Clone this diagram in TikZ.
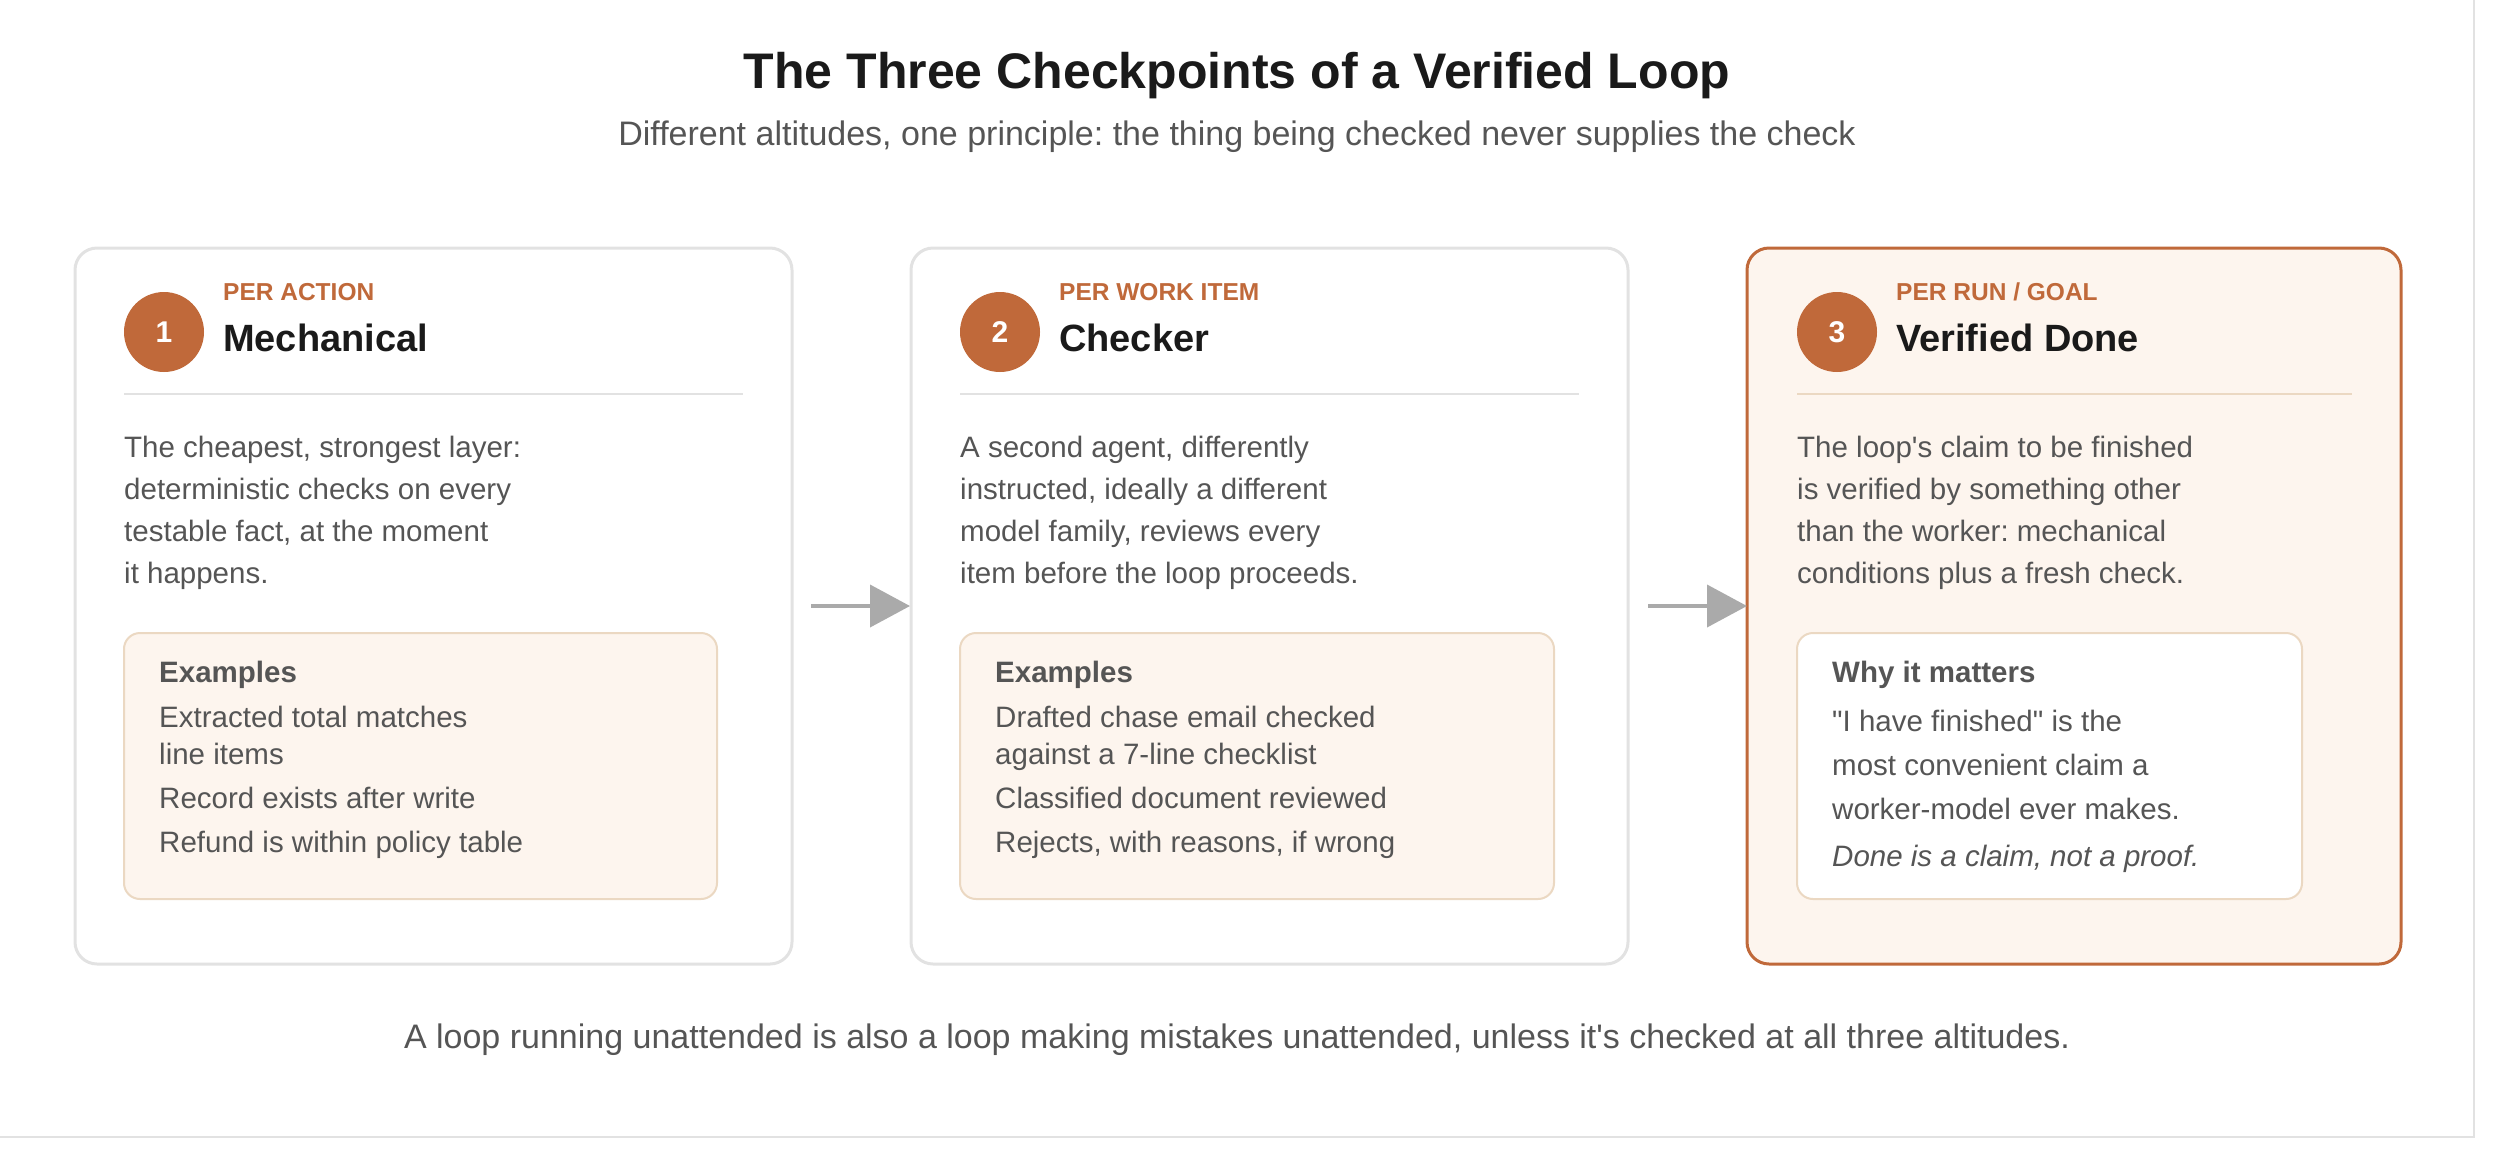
\documentclass[tikz,border=0pt]{standalone}
\usepackage{fontspec}
\setmainfont{Liberation Sans}[Ligatures=TeXOff]
\usepackage{xcolor}
\usetikzlibrary{positioning}
\frenchspacing
\definecolor{rust}{HTML}{C0693A}
\definecolor{peach}{HTML}{FDF5EE}
\definecolor{peachline}{HTML}{EBD8C2}
\definecolor{cardline}{HTML}{E2E2E2}
\definecolor{ink}{HTML}{1A1A1A}
\definecolor{body}{HTML}{555555}
\definecolor{arrowgray}{HTML}{AAAAAA}
\tikzset{
  card/.style={draw=cardline, line width=3pt, rounded corners=22pt, fill=white},
  inbox/.style={draw=peachline, line width=2pt, rounded corners=16pt, fill=peach},
  badge/.style={circle, fill=rust, minimum size=80pt, inner sep=0pt, text=white, font=\fontsize{30}{32}\selectfont\bfseries},
  tag/.style={anchor=west, inner sep=0pt, text=rust, font=\fontsize{24.5}{27}\selectfont\bfseries},
  head/.style={anchor=west, inner sep=0pt, text=ink, font=\fontsize{38}{42}\selectfont\bfseries},
  para/.style={anchor=north west, inner sep=0pt, align=left, text=body, font=\fontsize{29.5}{42}\selectfont},
  items/.style={anchor=north west, inner sep=0pt, align=left, text=body, font=\fontsize{29.5}{37}\selectfont},
  sep/.style={line width=2pt},
  flow/.style={draw=arrowgray, line width=4pt, -{Triangle[length=40pt, width=42pt]}}
}
\usetikzlibrary{arrows.meta}
\begin{document}
\begin{tikzpicture}[x=1pt, y=-1pt]
    \useasboundingbox (0,0) rectangle (2500,1163);
    \draw[cardline, line width=1.5pt] (2474,0) -- (2474,1137) -- (0,1137);

    % Titles
    \node[text=ink, font=\fontsize{50}{56}\selectfont\bfseries] (title) at (1237,76) {The Three Checkpoints of a Verified Loop};
    \node[text=body, font=\fontsize{34}{38}\selectfont] (subtitle) at (1237,137) {Different altitudes, one principle: the thing being checked never supplies the check};

    % Cards
    \draw[card] (75,248) rectangle (792,964);
    \draw[card] (911,248) rectangle (1628,964);
    \draw[card, draw=rust, fill=peach] (1747,248) rectangle (2401,964);

    % Card 1
    \node[badge] (b1) at (164,332) {1};
    \node[tag] (t1) at (223,292) {PER ACTION};
    \node[head] (h1) at (223,338) {Mechanical};
    \draw[sep, cardline] (124,394) -- (743,394);
    \node[para] (p1) at (124,436) {The cheapest, strongest layer:\\deterministic checks on every\\testable fact, at the moment\\it happens.};
    \draw[inbox] (124,633) rectangle (717,899);
    \node[items, font=\fontsize{29.5}{37}\selectfont\bfseries] (e1) at (159,661) {Examples};
    \node[items] (i1) at (159,706) {Extracted total matches\\line items\\[7pt]Record exists after write\\[7pt]Refund is within policy table};

    % Card 2
    \node[badge] (b2) at (1000,332) {2};
    \node[tag] (t2) at (1059,292) {PER WORK ITEM};
    \node[head] (h2) at (1059,338) {Checker};
    \draw[sep, cardline] (960,394) -- (1579,394);
    \node[para] (p2) at (960,436) {A second agent, differently\\instructed, ideally a different\\model family, reviews every\\item before the loop proceeds.};
    \draw[inbox] (960,633) rectangle (1554,899);
    \node[items, font=\fontsize{29.5}{37}\selectfont\bfseries] (e2) at (995,661) {Examples};
    \node[items] (i2) at (995,706) {Drafted chase email checked\\against a 7-line checklist\\[7pt]Classified document reviewed\\[7pt]Rejects, with reasons, if wrong};

    % Card 3
    \node[badge] (b3) at (1837,332) {3};
    \node[tag] (t3) at (1896,292) {PER RUN / GOAL};
    \node[head] (h3) at (1896,338) {Verified Done};
    \draw[sep, peachline] (1797,394) -- (2352,394);
    \node[para] (p3) at (1797,436) {The loop's claim to be finished\\is verified by something other\\than the worker: mechanical\\conditions plus a fresh check.};
    \draw[inbox, fill=white] (1797,633) rectangle (2302,899);
    \node[items, font=\fontsize{29.5}{37}\selectfont\bfseries] (e3) at (1832,661) {Why it matters};
    \node[items, font=\fontsize{29.5}{44}\selectfont] (i3) at (1832,710) {"I have finished" is the\\most convenient claim a\\worker-model ever makes.\\[3pt]\textit{Done is a claim, not a proof.}};

    % Connections
    \coordinate (a1s) at (811,606);
    \coordinate (a1e) at (910,606);
    \coordinate (a2s) at (1648,606);
    \coordinate (a2e) at (1747,606);
    \draw[flow] (a1s) -- (a1e);
    \draw[flow] (a2s) -- (a2e);

    % Caption
    \node[text=body, font=\fontsize{34}{38}\selectfont] (caption) at (1237,1040) {A loop running unattended is also a loop making mistakes unattended, unless it's checked at all three altitudes.};
\end{tikzpicture}
\end{document}
